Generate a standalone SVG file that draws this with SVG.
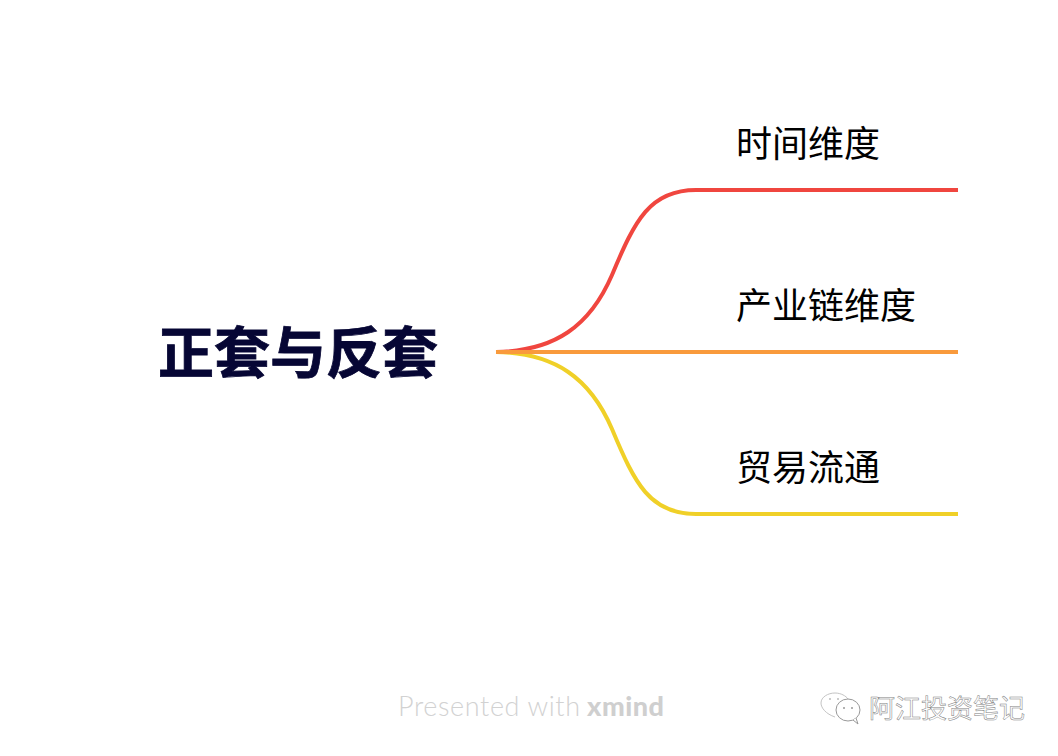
<svg xmlns="http://www.w3.org/2000/svg" width="1058" height="756" viewBox="0 0 1058 756">
<style>
.cn{font-family:"Noto Sans CJK SC","Noto Sans",sans-serif}
.lbl{font-size:36px;fill:#000}
.c{fill:none;stroke-width:4}
</style>
<rect width="1058" height="756" fill="#fff"/>
<g id="connectors">
<path class="c" stroke="#f0463f" d="M496 352C555 351 590 326 612 275C635 220 650 190 696 190H958"/>
<path class="c" stroke="#f0d028" d="M496 352C555 353 590 378 612 429C635 484 650 514 696 514H958"/>
<path class="c" stroke="#f99a3c" d="M496 352H958"/>
</g>
<g id="root"><text class="cn" x="298" y="373" text-anchor="middle" font-size="56" font-weight="700" stroke="#060634" stroke-width=".8" fill="#060634">正套与反套</text></g>
<g id="node1"><text class="cn lbl" x="736" y="157">时间维度</text></g>
<g id="node2"><text class="cn lbl" x="736" y="319">产业链维度</text></g>
<g id="node3"><text class="cn lbl" x="736" y="481">贸易流通</text></g>
<g id="credit"><text x="398" y="716" font-family="Lato,'Open Sans',sans-serif" font-size="27" font-weight="300" fill="#d2d2d2" textLength="182">Presented with</text><text x="587" y="716" font-family="Lato,'Open Sans',sans-serif" font-size="27" font-weight="900" fill="#cfcfcf" textLength="77">xmind</text></g>
<g id="watermark">
<path d="M835 717C826 714 821 708 821 703C821 697 828 693 835 693C841 693 846 696 848 699" fill="#fff" stroke="#c4c4c4" stroke-width="1"/>
<ellipse cx="848" cy="710" rx="12" ry="11" fill="#fff" stroke="#999" stroke-width="1"/>
<path d="M853 720L858 724L856 718" fill="#fff" stroke="#999" stroke-width="1"/>
<circle cx="830" cy="699" r="1" fill="#bbb"/><circle cx="838" cy="699" r="1" fill="#bbb"/><circle cx="844" cy="708" r="1" fill="#999"/><circle cx="852" cy="708" r="1" fill="#999"/>
<text class="cn" x="869" y="718" font-size="26" fill="#fff" stroke="#808080" stroke-width=".5">阿江投资笔记</text>
</g>
</svg>
